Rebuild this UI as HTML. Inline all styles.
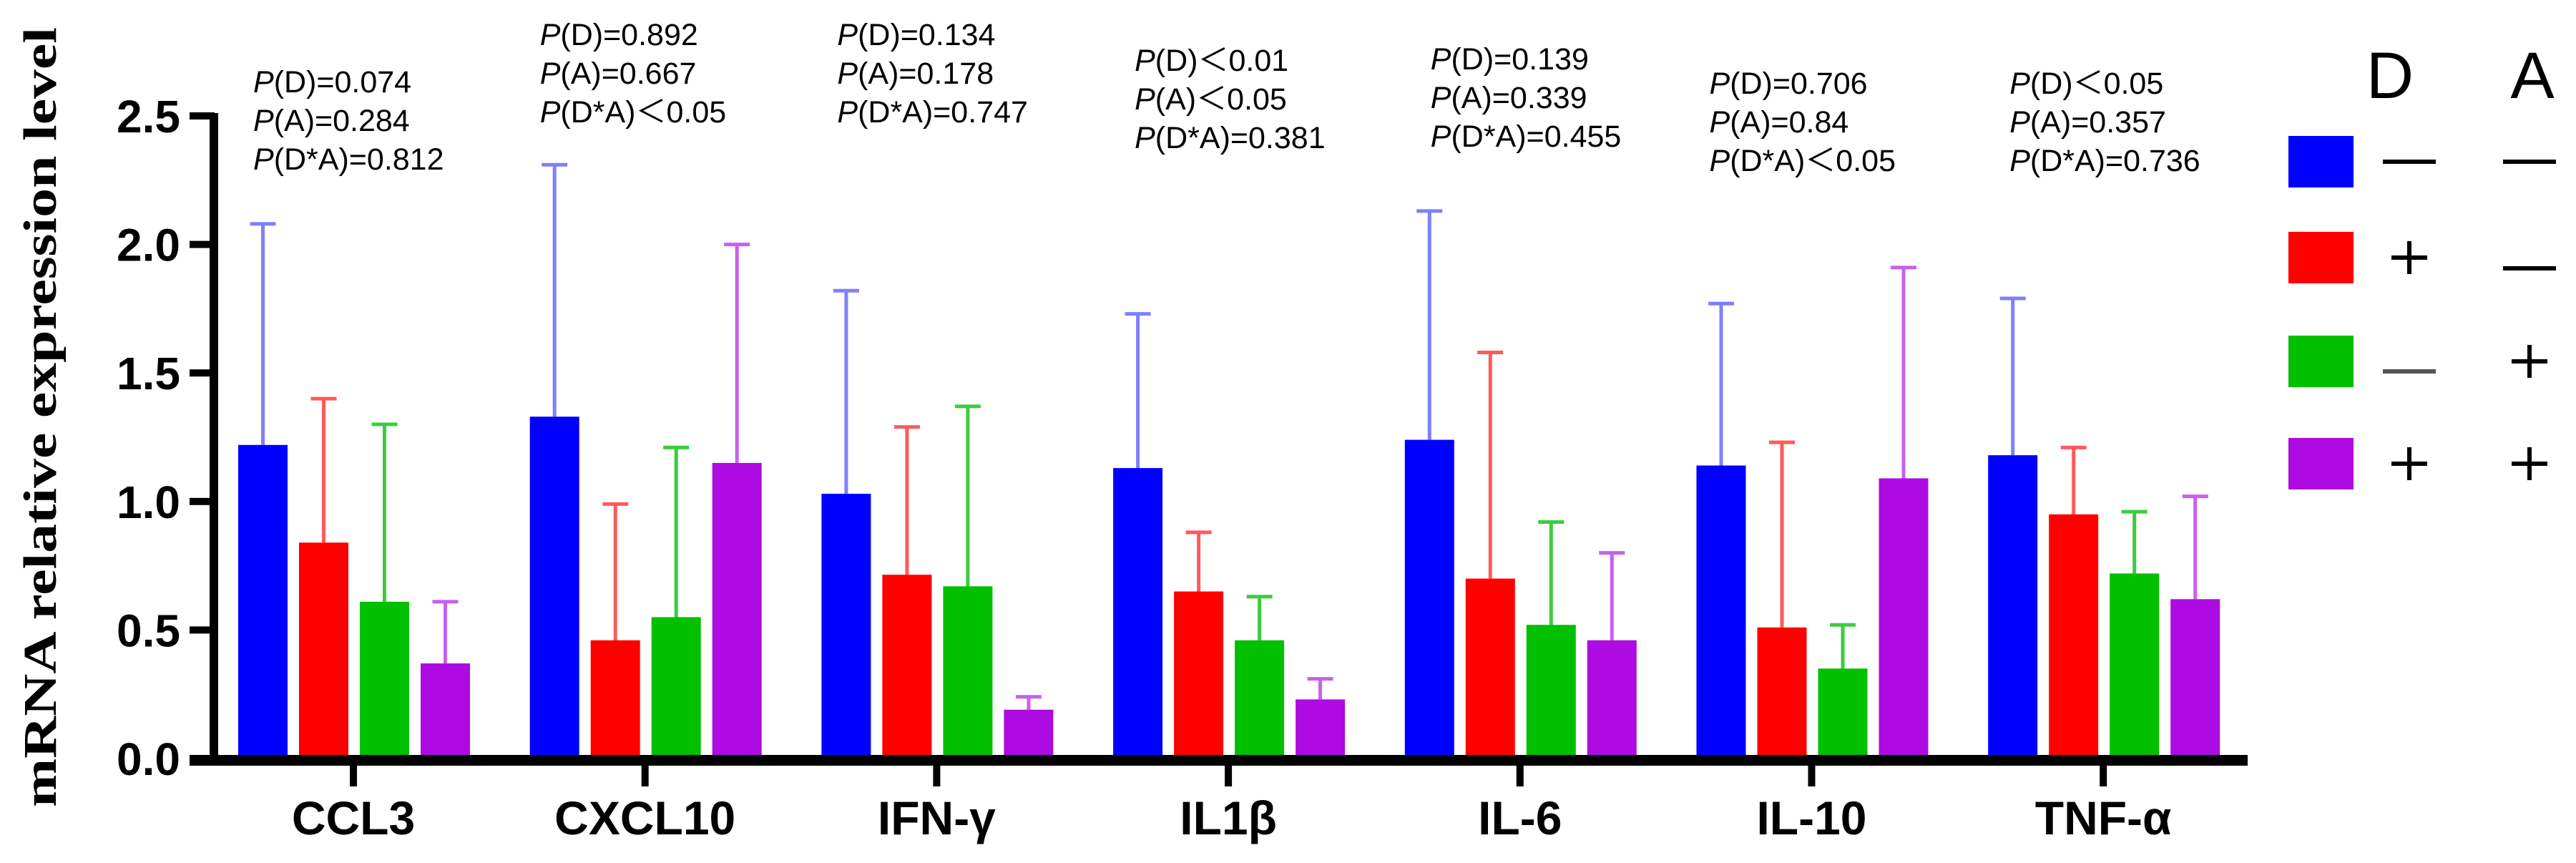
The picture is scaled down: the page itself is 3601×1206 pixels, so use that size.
<!DOCTYPE html>
<html><head><meta charset="utf-8"><style>
html,body{margin:0;padding:0;background:#fff;}
svg{display:block;}
</style></head><body>
<svg id="chart" width="3601" height="1206" viewBox="0 0 3601 1206" xmlns="http://www.w3.org/2000/svg">
<g id="plot"></g>
</svg>
<script>
const categories = ["CCL3","CXCL10","IFN-γ","IL1β","IL-6","IL-10","TNF-α"];
const seriesDminusAminus = [1.22,1.33,1.03,1.13,1.24,1.14,1.18];
const seriesDplusAminus  = [0.84,0.46,0.715,0.65,0.70,0.51,0.95];
const seriesDminusAplus  = [0.61,0.55,0.67,0.46,0.52,0.35,0.72];
const seriesDplusAplus   = [0.37,1.15,0.19,0.23,0.46,1.09,0.62];
const errDminusAminus = [2.08,2.31,1.82,1.73,2.13,1.77,1.79];
const errDplusAminus  = [1.40,0.99,1.29,0.88,1.58,1.23,1.21];
const errDminusAplus  = [1.30,1.21,1.37,0.63,0.92,0.52,0.96];
const errDplusAplus   = [0.61,2.00,0.24,0.31,0.80,1.91,1.02];
const yTicks = [0,0.5,1.0,1.5,2.0,2.5];
const yTickLabels = ["0.0","0.5","1.0","1.5","2.0","2.5"];
const pD  = ["P(D)=0.074","P(D)=0.892","P(D)=0.134","P(D)＜0.01","P(D)=0.139","P(D)=0.706","P(D)＜0.05"];
const pA  = ["P(A)=0.284","P(A)=0.667","P(A)=0.178","P(A)＜0.05","P(A)=0.339","P(A)=0.84","P(A)=0.357"];
const pDA = ["P(D*A)=0.812","P(D*A)＜0.05","P(D*A)=0.747","P(D*A)=0.381","P(D*A)=0.455","P(D*A)＜0.05","P(D*A)=0.736"];

const NS="http://www.w3.org/2000/svg";
const g=document.getElementById('plot');
function el(tag,attrs,parent){const e=document.createElementNS(NS,tag);for(const k in attrs)e.setAttribute(k,attrs[k]);(parent||g).appendChild(e);return e;}
const Y0=1060, PXU=359.2;
function yScale(v){return Y0-v*PXU;}
function xGroup(i){return 494+i*407.7;}
const series=[seriesDminusAminus,seriesDplusAminus,seriesDminusAplus,seriesDplusAplus];
const errs=[errDminusAminus,errDplusAminus,errDminusAplus,errDplusAplus];
const colors=["#0000ff","#ff0000","#00c000","#ad0be2"];
const ecolors=["#7f7fff","#ff5a5a","#3ccc3c","#c860ee"];
const seriesNames=["d-minus-a-minus","d-plus-a-minus","d-minus-a-plus","d-plus-a-plus"];
const BW=69, PITCH=85;

categories.forEach((c,i)=>{
  const cx=xGroup(i);
  series.forEach((s,j)=>{
    const bx=cx+(j-1.5)*PITCH+1;
    const top=yScale(s[i]), et=yScale(errs[j][i]);
    const eb=el('line',{x1:bx,x2:bx,y1:et,y2:top,stroke:ecolors[j],'stroke-width':5});
    
    
    const cap=el('line',{x1:bx-18,x2:bx+18,y1:et,y2:et,stroke:ecolors[j],'stroke-width':5});
    
    
    const r=el('rect',{x:bx-BW/2,y:top,width:BW,height:Y0-top,fill:colors[j]});
    
    
  });
  const tk=el('rect',{x:cx-5,y:1062,width:10,height:37,fill:'#000'});
  
  
  const lb=el('text',{x:cx,y:1166,'text-anchor':'middle','font-family':'Liberation Sans, sans-serif','font-weight':'bold','font-size':66,fill:'#000'});
  lb.textContent=c;
  
  
});

const annY=[114,48,48,84,82,116,116];
const annDX=[-140,-147,-139,-131,-125,-143,-131];
categories.forEach((c,i)=>{
  [pD[i],pA[i],pDA[i]].forEach((t,k)=>{
    const tx=el('text',{x:xGroup(i)+annDX[i],y:annY[i]+k*54+15,'font-family':'Liberation Sans, sans-serif','font-size':43,fill:'#000'});
    const it=document.createElementNS(NS,'tspan');it.setAttribute('font-style','italic');it.textContent='P';tx.appendChild(it);
    tx.appendChild(document.createTextNode(t.slice(1)));
    
    
  });
});

const ya=el('rect',{x:293,y:158,width:12,height:912,fill:'#000'});


const xa=el('rect',{x:265,y:1055,width:2877,height:15,fill:'#000'});


yTicks.forEach((v,k)=>{
  const y=yScale(v);
  const t=el('rect',{x:265,y:y-5,width:35,height:10,fill:'#000'});
  
  
  const l=el('text',{x:252,y:y+23,'text-anchor':'end','font-family':'Liberation Sans, sans-serif','font-weight':'bold','font-size':64,fill:'#000'});
  l.textContent=yTickLabels[k];
  
  
});
const yt=el('text',{x:0,y:0,transform:'translate(78,583) rotate(-90)','text-anchor':'middle','font-family':'Liberation Serif, serif','font-weight':'bold','font-size':66,textLength:1090,lengthAdjust:'spacingAndGlyphs',fill:'#000'});
yt.textContent='mRNA relative expression level';



const lg=el('g',{});


[['D',3341],['A',3540]].forEach(([t,x])=>{
  const h=el('text',{x:x,y:137,'text-anchor':'middle','font-family':'Liberation Sans, sans-serif','font-size':92,fill:'#000'},lg);
  h.textContent=t;
  
  
});
const legY=[226,360,505,648];
const legD=['—','+','—','+'];
const legA=['—','—','+','+'];
legY.forEach((y,j)=>{
  const sw=el('rect',{x:3199,y:y-36,width:91,height:72,fill:colors[j]},lg);
  
  
  [[legD[j],3368],[legA[j],3536]].forEach(([s,x],q)=>{
    const yy = (j===1&&q===1)?375:(j===2&&q===0)?519:y;
    if(s==='—'){
      const d=el('rect',{x:x-37,y:yy-3,width:74,height:6,fill:(j===2?'#555':'#000')},lg);
      
      
    } else {
      const p=el('path',{d:'M'+(x-25)+' '+yy+' H'+(x+25)+' M'+x+' '+(yy-23)+' V'+(yy+23),stroke:'#000','stroke-width':6,fill:'none'},lg);
      
      
    }
  });
});
</script>
</body></html>
